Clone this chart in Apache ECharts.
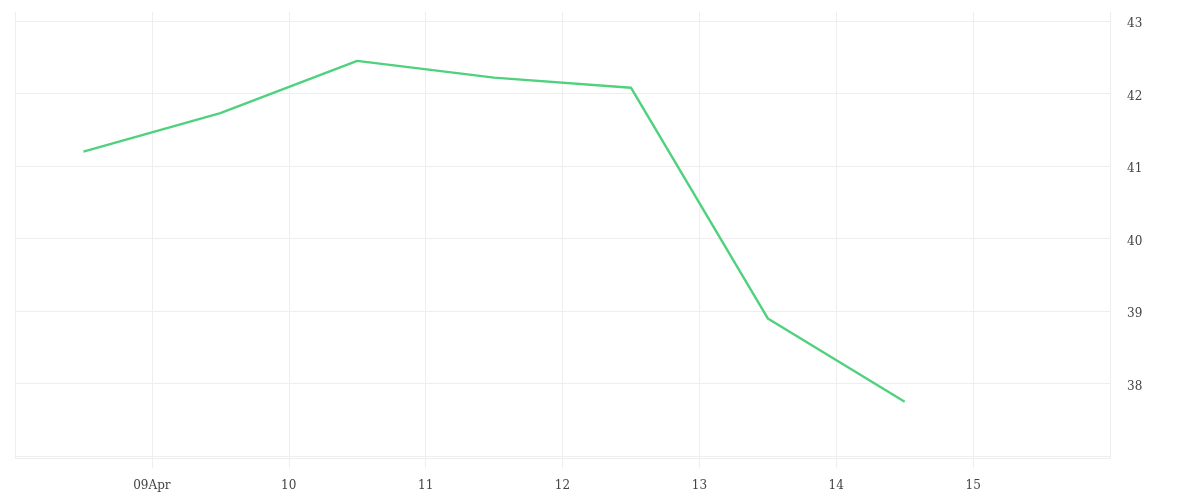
<!DOCTYPE html>
<html>
<head>
<meta charset="utf-8">
<script src="https://cdn.jsdelivr.net/npm/echarts@6/dist/echarts.min.js"></script>
<style>html,body{margin:0;padding:0;background:#fff;}#c{width:1200px;height:500px;}</style>
</head>
<body>
<div id="c"></div>
<script>
// Data (April, day-of-month; points sit at midday)
const pointDays = [8.5, 9.5, 10.5, 11.5, 12.5, 13.5, 14.5];
const seriesValues = [41.2, 41.73, 42.45, 42.22, 42.08, 38.9, 37.75];
const tickDays = [9, 10, 11, 12, 13, 14, 15];
const tickLabels = ['09Apr', '10', '11', '12', '13', '14', '15'];

const gridColor = '#eeeeee';
const textColor = '#444';
const font = 'DejaVu Serif';

const chart = echarts.init(document.getElementById('c'), null, {renderer: 'canvas'});
chart.setOption({
  animation: false,
  backgroundColor: '#ffffff',
  grid: {left: 15, right: 90, top: 12, bottom: 41.3, containLabel: false},
  xAxis: {
    type: 'value',
    min: 8,
    max: 16,
    interval: 1,
    axisLine: {show: true, lineStyle: {color: gridColor, width: 1}},
    axisTick: {show: true, length: 9, lineStyle: {color: gridColor}},
    splitLine: {show: true, lineStyle: {color: gridColor, width: 1}},
    axisLabel: {
      margin: 21,
      color: textColor,
      fontFamily: font,
      fontSize: 12,
      showMinLabel: false,
      showMaxLabel: false,
      formatter: function (v) {
        const i = tickDays.indexOf(v);
        return i >= 0 ? tickLabels[i] : '';
      }
    }
  },
  yAxis: {
    type: 'value',
    position: 'right',
    min: 36.966,
    max: 43.124,
    axisLine: {show: false},
    axisTick: {show: false},
    splitLine: {show: true, showMaxLine: false, lineStyle: {color: gridColor, width: 1}},
    axisLabel: {
      margin: 17,
      color: textColor,
      fontFamily: font,
      fontSize: 12,
      showMinLabel: false,
      showMaxLabel: false,
      formatter: function (v) {
        return (Math.abs(v - Math.round(v)) < 1e-9 && v >= 38) ? '{v|' + Math.round(v) + '}' : '';
      },
      rich: {
        v: {padding: [6, 0, 0, 0], color: textColor, fontFamily: font, fontSize: 12}
      }
    }
  },
  series: [{
    type: 'line',
    data: pointDays.map((d, i) => [d, seriesValues[i]]),
    symbol: 'none',
    lineStyle: {color: '#4fd17e', width: 2.4},
    itemStyle: {color: '#4fd17e'}
  }]
});
</script>
</body>
</html>
